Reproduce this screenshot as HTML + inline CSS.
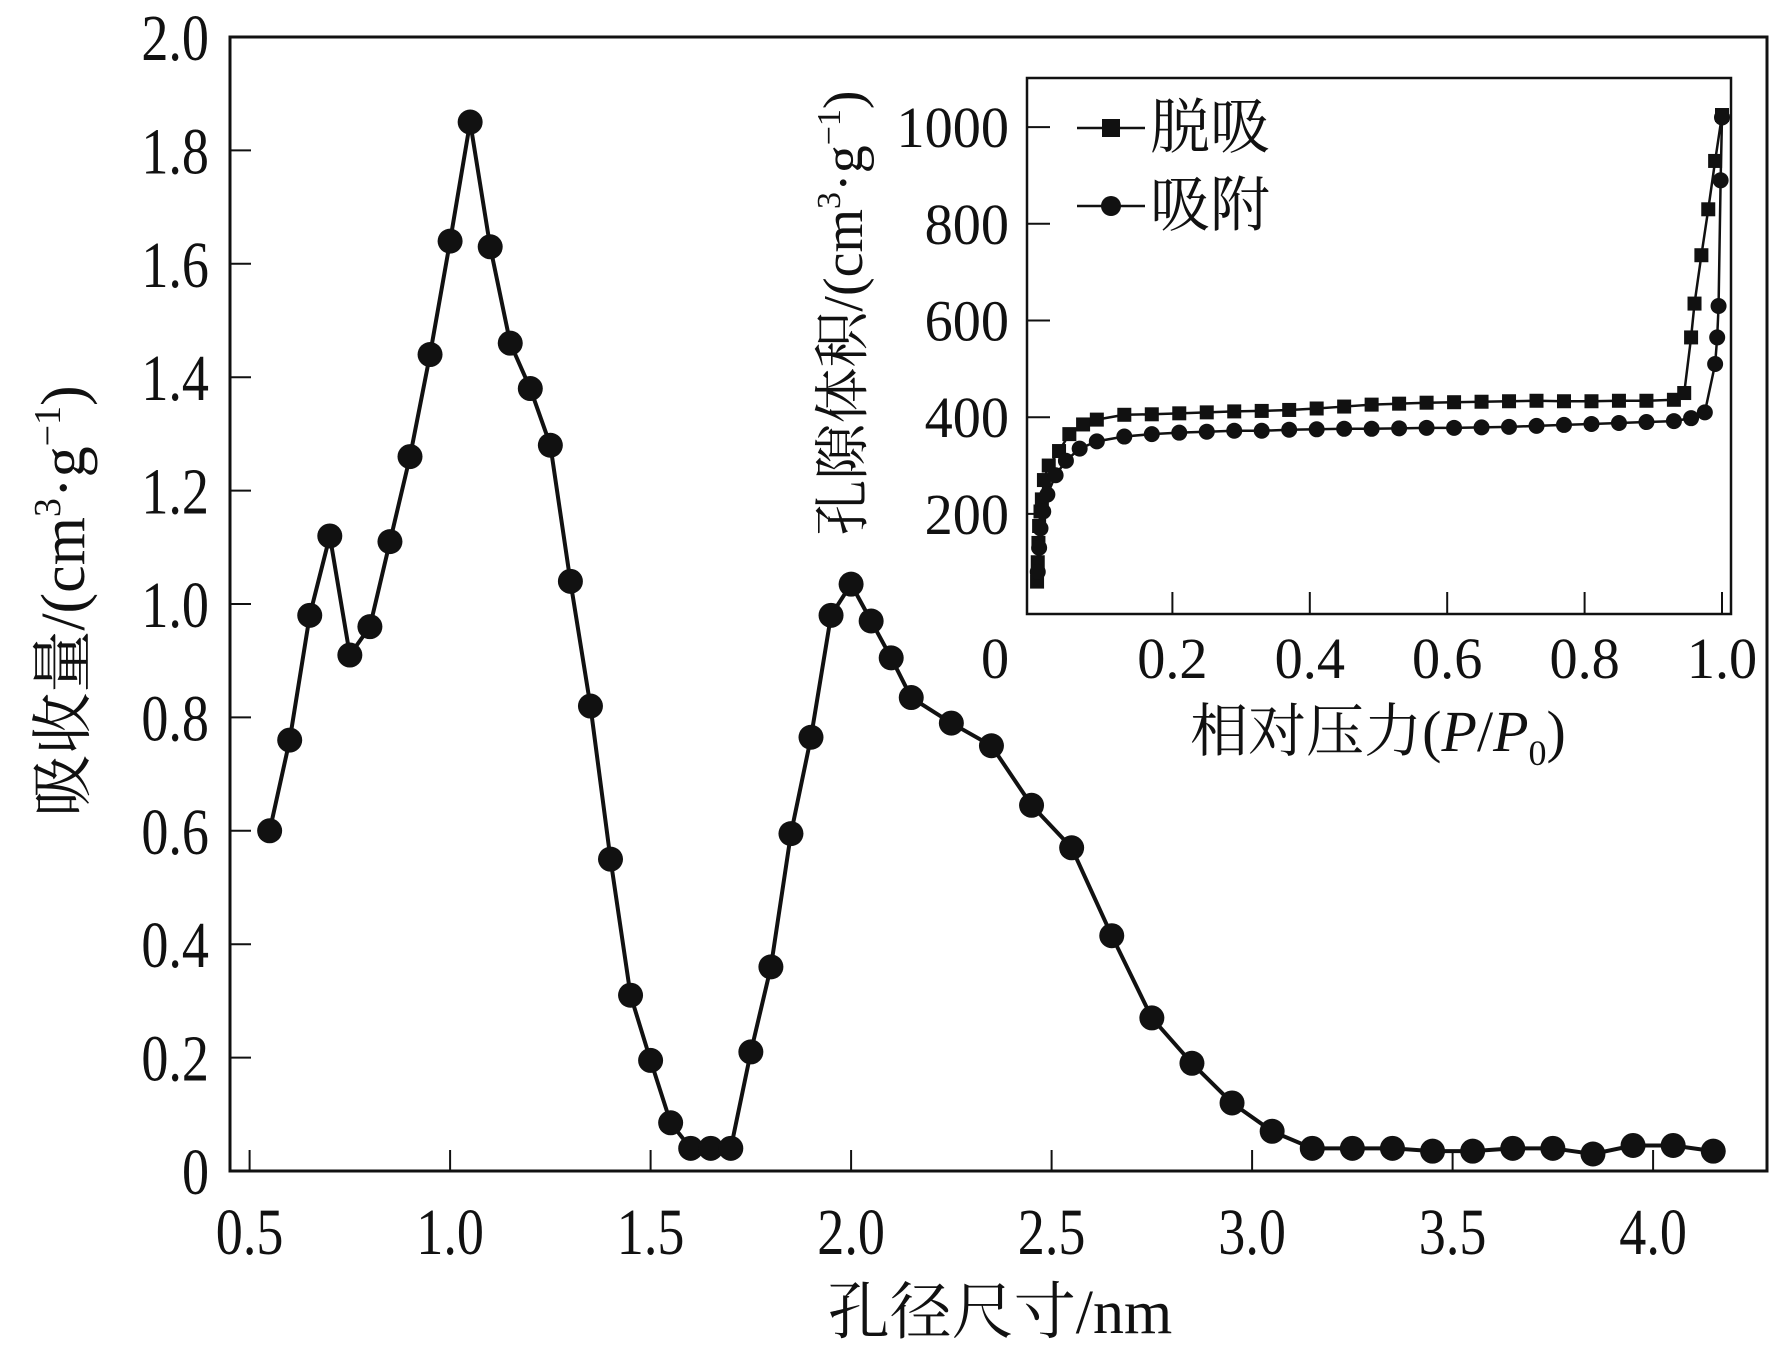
<!DOCTYPE html>
<html><head><meta charset="utf-8"><style>
body{margin:0;background:#fff}
svg text{font-family:"Liberation Serif","Noto Serif CJK SC",serif;fill:#111}
</style></head><body>
<svg width="1771" height="1359" xmlns="http://www.w3.org/2000/svg">
<g id="main"></g>
<g id="inset"></g>
</svg>
<script>
const poreSize=[0.55,0.60,0.65,0.70,0.75,0.80,0.85,0.90,0.95,1.00,1.05,1.10,1.15,1.20,1.25,1.30,1.35,1.40,1.45,1.50,1.55,1.60,1.65,1.70,1.75,1.80,1.85,1.90,1.95,2.00,2.05,2.10,2.15,2.25,2.35,2.45,2.55,2.65,2.75,2.85,2.95,3.05,3.15,3.25,3.35,3.45,3.55,3.65,3.75,3.85,3.95,4.05,4.15];
const uptake=[0.60,0.76,0.98,1.12,0.91,0.96,1.11,1.26,1.44,1.64,1.85,1.63,1.46,1.38,1.28,1.04,0.82,0.55,0.31,0.195,0.085,0.04,0.04,0.04,0.21,0.36,0.595,0.765,0.98,1.035,0.97,0.905,0.835,0.79,0.75,0.645,0.57,0.415,0.27,0.19,0.12,0.07,0.04,0.04,0.04,0.035,0.035,0.04,0.04,0.03,0.045,0.045,0.035];
const xTicks=[0.5,1.0,1.5,2.0,2.5,3.0,3.5,4.0];
const yTicks=[0,0.2,0.4,0.6,0.8,1.0,1.2,1.4,1.6,1.8,2.0];
const desP=[0.003,0.004,0.005,0.006,0.008,0.01,0.013,0.02,0.035,0.05,0.07,0.09,0.13,0.17,0.21,0.25,0.29,0.33,0.37,0.41,0.45,0.49,0.53,0.57,0.61,0.65,0.69,0.73,0.77,0.81,0.85,0.89,0.93,0.945,0.955,0.96,0.97,0.98,0.99,1.0];
const desV=[60,100,140,175,205,230,270,300,330,365,385,395,405,406,408,410,412,413,415,418,422,426,428,430,431,432,433,434,433,433,434,434,436,450,565,635,735,830,930,1025];
const adsP=[0.004,0.006,0.008,0.012,0.018,0.03,0.045,0.065,0.09,0.13,0.17,0.21,0.25,0.29,0.33,0.37,0.41,0.45,0.49,0.53,0.57,0.61,0.65,0.69,0.73,0.77,0.81,0.85,0.89,0.93,0.955,0.975,0.99,0.993,0.995,0.998,1.0];
const adsV=[80,130,170,205,240,280,310,335,350,360,365,368,370,372,372,374,375,376,376,377,378,378,379,380,382,384,386,388,390,392,398,410,510,565,630,890,1020];
const inXTicks=[0.2,0.4,0.6,0.8,1.0];
const inYTicks=[200,400,600,800,1000];
const NS="http://www.w3.org/2000/svg";
function mk(p,t,a,txt){const e=document.createElementNS(NS,t);for(const k in a)e.setAttribute(k,a[k]);if(txt!==undefined)e.textContent=txt;p.appendChild(e);return e;}
function ct(p,x,y,size,anchor,str,sx){return mk(p,'text',{transform:`translate(${x},${y}) scale(${sx},1)`,'font-size':size,'text-anchor':anchor},str);}
const M=document.getElementById('main'),I=document.getElementById('inset');
const X=v=>249.6+(v-0.5)*401,Y=v=>1171-v*567;
let e=mk(M,'rect',{x:230,y:37,width:1537,height:1134,fill:'none',stroke:'#111','stroke-width':3});

xTicks.forEach(t=>{mk(M,'line',{x1:X(t),x2:X(t),y1:1171,y2:1150,stroke:'#111','stroke-width':2});
 e=ct(M,X(t),1254,66,'middle',t.toFixed(1),0.82);
 });
yTicks.forEach(t=>{mk(M,'line',{x1:230,x2:251,y1:Y(t),y2:Y(t),stroke:'#111','stroke-width':2});
 e=ct(M,209,Y(t)+23,66,'end',t===0?'0':t.toFixed(1),0.82);
 });
e=mk(M,'text',{x:1000,y:1333,'font-size':62,'text-anchor':'middle'},'孔径尺寸/nm');

e=mk(M,'text',{x:0,y:0,'font-size':62,'text-anchor':'middle',transform:'translate(84,601) rotate(-90)'});
e.innerHTML='吸收量/(cm<tspan font-size="38" dy="-24">3</tspan><tspan dy="24">·g</tspan><tspan font-size="38" dy="-24">−1</tspan><tspan dy="24">)</tspan>';

e=mk(M,'polyline',{points:poreSize.map((x,i)=>X(x)+','+Y(uptake[i])).join(' '),fill:'none',stroke:'#111','stroke-width':4});

poreSize.forEach((x,i)=>{e=mk(M,'circle',{cx:X(x),cy:Y(uptake[i]),r:12.5,fill:'#111'});
 });
// inset
const IX=v=>1035+v*687,IY=v=>610.6-v*0.4835;
mk(I,'rect',{x:1027,y:78,width:704,height:536,fill:'#fff'});
e=mk(I,'rect',{x:1027,y:78,width:704,height:536,fill:'none',stroke:'#111','stroke-width':2.5});

inXTicks.forEach(t=>{mk(I,'line',{x1:IX(t),x2:IX(t),y1:614,y2:592,stroke:'#111','stroke-width':2});
 e=ct(I,IX(t),678,58,'middle',t.toFixed(1),0.97);
 });
e=ct(I,995,678,58,'middle','0',0.97);

inYTicks.forEach(t=>{mk(I,'line',{x1:1027,x2:1050,y1:IY(t),y2:IY(t),stroke:'#111','stroke-width':2});
 e=ct(I,1009,IY(t)+20,58,'end',String(t),0.97);
 });
e=mk(I,'text',{x:1378,y:751,'font-size':58,'text-anchor':'middle'});
e.innerHTML='相对压力(<tspan font-style="italic">P</tspan>/<tspan font-style="italic">P</tspan><tspan font-size="36" dy="14">0</tspan><tspan dy="-14">)</tspan>';

e=mk(I,'text',{x:0,y:0,'font-size':56,'text-anchor':'middle',transform:'translate(862,313) rotate(-90)'});
e.innerHTML='孔隙体积/(cm<tspan font-size="34" dy="-22">3</tspan><tspan dy="22">·g</tspan><tspan font-size="34" dy="-22">−1</tspan><tspan dy="22">)</tspan>';

e=mk(I,'polyline',{points:desP.map((x,i)=>IX(x)+','+IY(desV[i])).join(' '),fill:'none',stroke:'#111','stroke-width':2.5});

e=mk(I,'polyline',{points:adsP.map((x,i)=>IX(x)+','+IY(adsV[i])).join(' '),fill:'none',stroke:'#111','stroke-width':2.5});

desP.forEach((x,i)=>{e=mk(I,'rect',{x:IX(x)-7,y:IY(desV[i])-7,width:14,height:14,fill:'#111'});
 });
adsP.forEach((x,i)=>{e=mk(I,'circle',{cx:IX(x),cy:IY(adsV[i]),r:8,fill:'#111'});
 });
// legend
e=mk(I,'g',{});
mk(e,'line',{x1:1077,x2:1145,y1:128,y2:128,stroke:'#111','stroke-width':2.5});
mk(e,'rect',{x:1102,y:119,width:18,height:18,fill:'#111'});
mk(e,'text',{x:1150,y:148,'font-size':60},'脱吸');
e=mk(I,'g',{});
mk(e,'line',{x1:1077,x2:1145,y1:206,y2:206,stroke:'#111','stroke-width':2.5});
mk(e,'circle',{cx:1111,cy:206,r:10,fill:'#111'});
mk(e,'text',{x:1150,y:226,'font-size':60},'吸附');
</script>
</body></html>
